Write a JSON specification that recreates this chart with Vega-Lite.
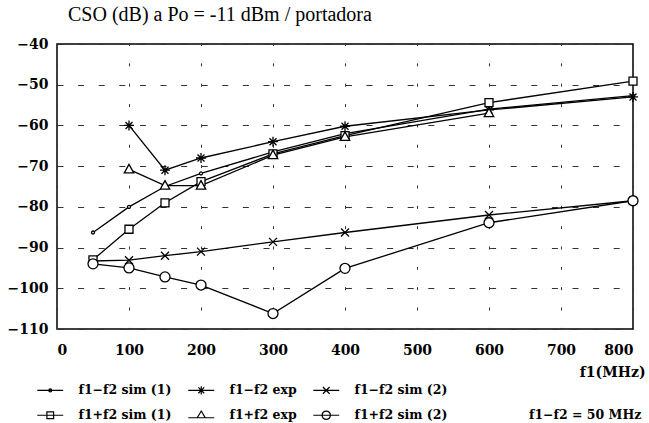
{
  "$schema": "https://vega.github.io/schema/vega-lite/v6.json",
  "autosize": "none",
  "width": 576,
  "height": 285,
  "padding": {"left": 57, "top": 44, "right": 16, "bottom": 94},
  "background": "white",
  "title": {
    "text": "CSO (dB) a Po = -11 dBm / portadora",
    "anchor": "start",
    "frame": "group",
    "dx": 11,
    "offset": 12,
    "font": "Liberation Serif",
    "fontSize": 20,
    "fontWeight": "normal",
    "color": "black"
  },
  "config": {
    "view": {"stroke": "black", "strokeWidth": 1.5},
    "axis": {
      "labelFont": "DejaVu Serif",
      "labelFontWeight": "bold",
      "labelFontSize": 14,
      "labelColor": "black",
      "ticks": false,
      "domain": false,
      "gridColor": "#333",
      "gridWidth": 1,
      "titleFont": "DejaVu Serif",
      "titleFontWeight": "bold",
      "titleFontSize": 14,
      "titleColor": "black"
    },
    "legend": {
      "labelFont": "DejaVu Serif",
      "labelFontWeight": "bold",
      "labelFontSize": 12.5,
      "labelColor": "black",
      "titleFont": "DejaVu Serif",
      "titleFontWeight": "bold",
      "titleFontSize": 12.5,
      "titleColor": "black"
    },
    "point": {"filled": true, "fill": "white", "stroke": "black", "strokeWidth": 1.3, "size": 100, "opacity": 1}
  },
  "data": {
    "values": [
      {"series": "f1−f2 sim (1)", "f": 50, "cso": -86.3},
      {"series": "f1−f2 sim (1)", "f": 100, "cso": -80},
      {"series": "f1−f2 sim (1)", "f": 150, "cso": -75},
      {"series": "f1−f2 sim (1)", "f": 200, "cso": -71.8},
      {"series": "f1−f2 sim (1)", "f": 300, "cso": -66.5},
      {"series": "f1−f2 sim (1)", "f": 400, "cso": -62},
      {"series": "f1−f2 sim (1)", "f": 600, "cso": -56},
      {"series": "f1−f2 sim (1)", "f": 800, "cso": -52.7},
      {"series": "f1−f2 exp", "f": 100, "cso": -60},
      {"series": "f1−f2 exp", "f": 150, "cso": -71},
      {"series": "f1−f2 exp", "f": 200, "cso": -68},
      {"series": "f1−f2 exp", "f": 300, "cso": -64},
      {"series": "f1−f2 exp", "f": 400, "cso": -60.2},
      {"series": "f1−f2 exp", "f": 600, "cso": -56.2},
      {"series": "f1−f2 exp", "f": 800, "cso": -53},
      {"series": "f1−f2 sim (2)", "f": 50, "cso": -93.3},
      {"series": "f1−f2 sim (2)", "f": 100, "cso": -93.1},
      {"series": "f1−f2 sim (2)", "f": 150, "cso": -92},
      {"series": "f1−f2 sim (2)", "f": 200, "cso": -91},
      {"series": "f1−f2 sim (2)", "f": 300, "cso": -88.6},
      {"series": "f1−f2 sim (2)", "f": 400, "cso": -86.3},
      {"series": "f1−f2 sim (2)", "f": 600, "cso": -82},
      {"series": "f1−f2 sim (2)", "f": 800, "cso": -78.5},
      {"series": "f1+f2 sim (1)", "f": 50, "cso": -93},
      {"series": "f1+f2 sim (1)", "f": 100, "cso": -85.5},
      {"series": "f1+f2 sim (1)", "f": 150, "cso": -79},
      {"series": "f1+f2 sim (1)", "f": 200, "cso": -73.8},
      {"series": "f1+f2 sim (1)", "f": 300, "cso": -67},
      {"series": "f1+f2 sim (1)", "f": 400, "cso": -62.5},
      {"series": "f1+f2 sim (1)", "f": 600, "cso": -54.4},
      {"series": "f1+f2 sim (1)", "f": 800, "cso": -49.1},
      {"series": "f1+f2 exp", "f": 100, "cso": -70.8},
      {"series": "f1+f2 exp", "f": 150, "cso": -74.8},
      {"series": "f1+f2 exp", "f": 200, "cso": -74.8},
      {"series": "f1+f2 exp", "f": 300, "cso": -67.3},
      {"series": "f1+f2 exp", "f": 400, "cso": -62.8},
      {"series": "f1+f2 exp", "f": 600, "cso": -57},
      {"series": "f1+f2 sim (2)", "f": 50, "cso": -94},
      {"series": "f1+f2 sim (2)", "f": 100, "cso": -95},
      {"series": "f1+f2 sim (2)", "f": 150, "cso": -97.2},
      {"series": "f1+f2 sim (2)", "f": 200, "cso": -99.2},
      {"series": "f1+f2 sim (2)", "f": 300, "cso": -106.2},
      {"series": "f1+f2 sim (2)", "f": 400, "cso": -95.1},
      {"series": "f1+f2 sim (2)", "f": 600, "cso": -83.9},
      {"series": "f1+f2 sim (2)", "f": 800, "cso": -78.5}
    ]
  },
  "encoding": {
    "x": {
      "field": "f",
      "type": "quantitative",
      "scale": {"domain": [0, 800], "nice": false},
      "axis": {
        "values": [0, 100, 200, 300, 400, 500, 600, 700, 800],
        "labelPadding": 14,
        "gridDash": [3, 17.35],
        "gridDashOffset": 1.5,
        "title": "f1(MHz)",
        "titleAnchor": "end",
        "titleAlign": "right",
        "titleX": 588,
        "titleY": 47,
        "titleBaseline": "alphabetic"
      }
    },
    "y": {
      "field": "cso",
      "type": "quantitative",
      "scale": {"domain": [-110, -40], "nice": false},
      "axis": {
        "values": [-110, -100, -90, -80, -70, -60, -50, -40],
        "labelPadding": 9,
        "gridDash": [6, 14.6],
        "title": null
      }
    }
  },
  "layer": [
    {
      "mark": {"type": "line", "color": "black", "strokeWidth": 1.3},
      "encoding": {
        "detail": {"field": "series"},
        "opacity": {
          "field": "series",
          "type": "nominal",
          "scale": {
            "type": "ordinal",
            "domain": ["f1−f2 sim (1)", "f1−f2 exp", "f1−f2 sim (2)", "f1+f2 sim (1)", "f1+f2 exp", "f1+f2 sim (2)"],
            "range": [1, 1, 1, 1, 1, 1]
          },
          "legend": {
            "orient": "none",
            "legendX": -13,
            "legendY": 340,
            "columns": 3,
            "direction": "horizontal",
            "title": "f1−f2 = 50 MHz",
            "titleOrient": "right",
            "titleAnchor": "end",
            "titlePadding": 82,
            "symbolSize": 70,
            "labelOffset": 22,
            "columnPadding": 13,
            "rowPadding": 11,
            "symbolStrokeWidth": 1.2,
            "symbolFillColor": "white",
            "symbolStrokeColor": "black",
            "symbolType": {"expr": "['M-3.1,0L3.1,0M0.35,0A0.35,0.35,0,1,1,-0.35,0A0.35,0.35,0,1,1,0.35,0','M-3.1,0L3.1,0M-1,0L1,0M0,-1L0,1M-0.7,-0.7L0.7,0.7M-0.7,0.7L0.7,-0.7','M-3.1,0L3.1,0M-0.8,-0.8L0.8,0.8M-0.8,0.8L0.8,-0.8','M-3.1,0L3.1,0M-0.8,-0.8H0.8V0.8H-0.8Z','M-3.1,0.6L3.1,0.6M0,-1L0.95,0.6H-0.95Z','M-3.1,0L3.1,0M1,0A1,1,0,1,1,-1,0A1,1,0,1,1,1,0'][indexof(['f1−f2 sim (1)','f1−f2 exp','f1−f2 sim (2)','f1+f2 sim (1)','f1+f2 exp','f1+f2 sim (2)'], datum.value)]"}
          }
        }
      }
    },
    {
      "transform": [{"filter": "datum.series === 'f1−f2 sim (1)'"}],
      "mark": {"type": "point", "shape": "M0.3,0A0.3,0.3,0,1,1,-0.3,0A0.3,0.3,0,1,1,0.3,0"}
    },
    {
      "transform": [{"filter": "datum.series === 'f1−f2 exp'"}],
      "mark": {"type": "point", "shape": "M-1,0L1,0M0,-1L0,1M-0.7,-0.7L0.7,0.7M-0.7,0.7L0.7,-0.7"}
    },
    {
      "transform": [{"filter": "datum.series === 'f1−f2 sim (2)'"}],
      "mark": {"type": "point", "shape": "M-0.8,-0.8L0.8,0.8M-0.8,0.8L0.8,-0.8"}
    },
    {
      "transform": [{"filter": "datum.series === 'f1+f2 sim (1)'"}],
      "mark": {"type": "point", "shape": "M-0.8,-0.8H0.8V0.8H-0.8Z"}
    },
    {
      "transform": [{"filter": "datum.series === 'f1+f2 exp'"}],
      "mark": {"type": "point", "shape": "M0,-1L0.95,0.7H-0.95Z"}
    },
    {
      "transform": [{"filter": "datum.series === 'f1+f2 sim (2)'"}],
      "mark": {"type": "point", "shape": "M1,0A1,1,0,1,1,-1,0A1,1,0,1,1,1,0"}
    }
  ]
}
